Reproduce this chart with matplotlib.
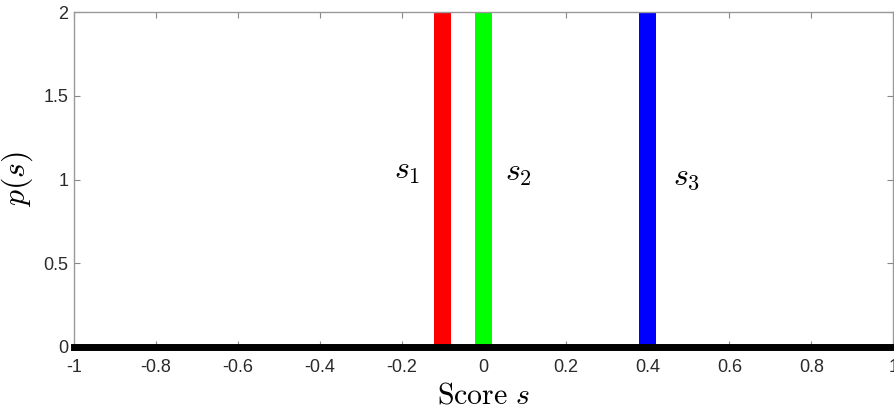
import numpy as np
import matplotlib
matplotlib.use("Agg")
import matplotlib.pyplot as plt

plt.rcParams['mathtext.fontset'] = 'cm'
plt.rcParams['font.family'] = ['Liberation Sans', 'DejaVu Sans']

# scores and their point masses
scores = [-0.1, 0.0, 0.4]
heights = [2.0, 2.0, 2.0]
colors = ['#ff0000', '#00ff00', '#0000ff']
labels = [r'$s_1$', r'$s_2$', r'$s_3$']
label_x = [-0.187, 0.085, 0.496]
label_y = [1.05, 1.04, 1.015]

xticks = np.arange(-1, 1.01, 0.2)
yticks = [0, 0.5, 1, 1.5, 2]

fig = plt.figure(figsize=(8.95, 4.17), dpi=100)
ax = fig.add_axes([0.0827, 0.168, 0.9153, 0.803])

ax.bar(scores, heights, width=0.042, color=colors, zorder=2)
ax.plot([-1, 1], [0, 0], color='black', linewidth=5, zorder=3, clip_on=False)

for lx, ly, lab in zip(label_x, label_y, labels):
    ax.text(lx, ly, lab, fontsize=23, ha='center', va='center')

ax.set_xlim(-1, 1)
ax.set_ylim(0, 2)
ax.set_xticks(xticks)
ax.set_xticklabels(['-1', '-0.8', '-0.6', '-0.4', '-0.2', '0', '0.2', '0.4', '0.6', '0.8', '1'])
ax.set_yticks(yticks)
ax.set_yticklabels(['0', '0.5', '1', '1.5', '2'])
ax.tick_params(direction='in', length=4, width=0.8, color='#888888',
               labelsize=13, labelcolor='#2a2a2a', top=True, right=True)
ax.tick_params(axis='x', pad=9)
ax.tick_params(axis='y', pad=4)
for sp in ax.spines.values():
    sp.set_color('#999999')
    sp.set_linewidth(1)

ax.set_xlabel(r'$\mathrm{Score}\ s$', fontsize=21.5, labelpad=4)
ax.set_ylabel(r'$p(s)$', fontsize=23, labelpad=6)

fig.savefig('out.png', dpi=100)
